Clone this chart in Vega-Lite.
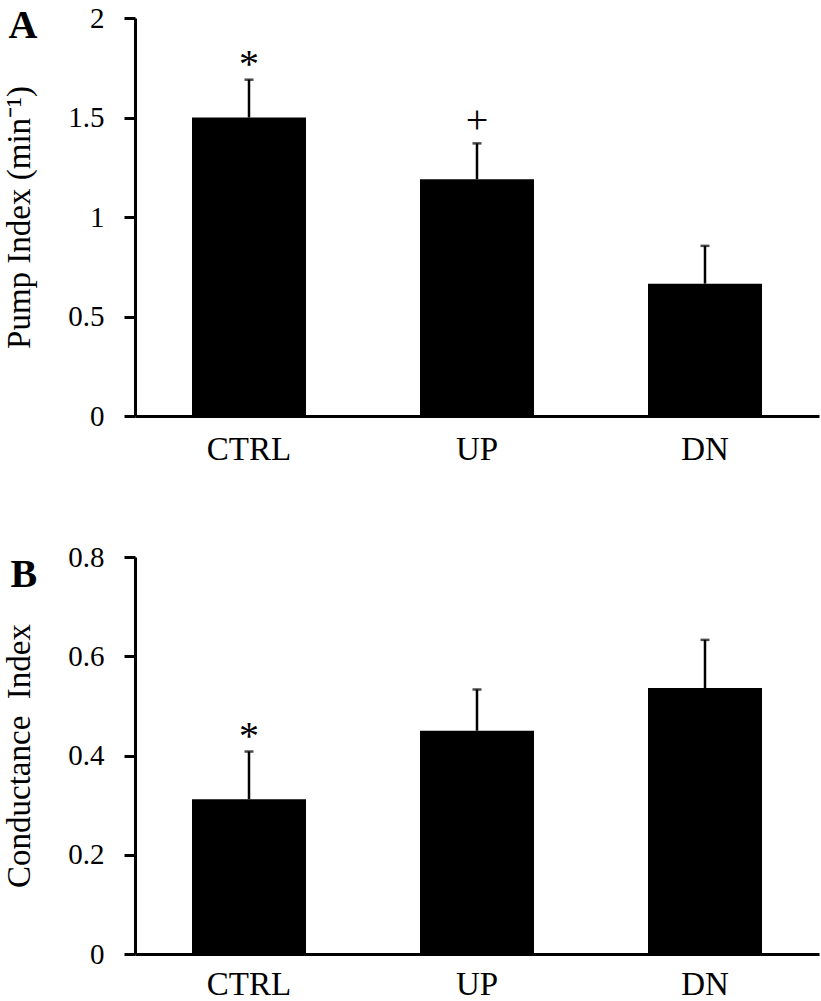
{
  "$schema": "https://vega.github.io/schema/vega-lite/v6.json",
  "padding": {"left": 3, "top": 4, "right": 4, "bottom": 0},
  "background": "white",
  "config": {
    "font": "Liberation Serif",
    "view": {"stroke": null},
    "concat": {"spacing": 77},
    "axis": {
      "domainColor": "black",
      "domainWidth": 3,
      "tickColor": "black",
      "tickWidth": 3,
      "tickSize": 11,
      "labelColor": "black",
      "titleColor": "black",
      "grid": false,
      "labelFont": "Liberation Serif",
      "titleFont": "Liberation Serif",
      "titleFontWeight": "normal"
    },
    "axisX": {"ticks": false, "labelFontSize": 33, "labelPadding": 17, "labelAngle": 0, "title": null},
    "axisY": {"labelFontSize": 29, "labelPadding": 20, "titleFontSize": 33, "titlePadding": 31, "format": "~g"}
  },
  "datasets": {
    "pump": [
      {"group": "CTRL", "value": 1.50, "upper": 1.69, "sig": "*"},
      {"group": "UP", "value": 1.19, "upper": 1.37, "sig": "+"},
      {"group": "DN", "value": 0.665, "upper": 0.855, "sig": ""}
    ],
    "cond": [
      {"group": "CTRL", "value": 0.312, "upper": 0.408, "sig": "*"},
      {"group": "UP", "value": 0.45, "upper": 0.533, "sig": ""},
      {"group": "DN", "value": 0.536, "upper": 0.633, "sig": ""}
    ]
  },
  "vconcat": [
    {
      "width": 684,
      "height": 398,
      "data": {"name": "pump"},
      "resolve": {"axis": {"x": "independent"}},
      "layer": [
        {"mark": {"type": "bar", "color": "black"},
         "encoding": {
           "x": {"field": "group", "type": "nominal", "sort": ["CTRL", "UP", "DN"], "scale": {"paddingInner": 0.5, "paddingOuter": 0.25}, "axis": {"orient": "bottom"}},
           "y": {"field": "value", "type": "quantitative", "scale": {"domain": [0, 2], "nice": false}, "axis": {"values": [0, 0.5, 1, 1.5, 2], "title": "Pump Index (min⁻¹)"}}}},
        {"mark": {"type": "rule", "color": "black", "strokeWidth": 2.5},
         "encoding": {
           "x": {"field": "group", "type": "nominal", "sort": ["CTRL", "UP", "DN"], "axis": {"orient": "top", "labels": false, "ticks": false, "domain": false, "title": "A", "titleX": -127, "titleY": 19, "titleAlign": "left", "titleAnchor": null, "titleAngle": 0, "titleBaseline": "alphabetic", "titleFontSize": 40, "titleFontWeight": "bold"}},
           "y": {"field": "value", "type": "quantitative"}, "y2": {"field": "upper"}}},
        {"mark": {"type": "tick", "color": "black", "size": 9, "thickness": 2.5},
         "encoding": {
           "x": {"field": "group", "type": "nominal", "sort": ["CTRL", "UP", "DN"], "axis": null},
           "y": {"field": "upper", "type": "quantitative"}}},
        {"transform": [{"filter": "datum.sig == '*'"}],
         "mark": {"type": "text", "color": "black", "fontSize": 40, "baseline": "alphabetic", "dy": -3, "font": "Liberation Serif"},
         "encoding": {
           "x": {"field": "group", "type": "nominal", "sort": ["CTRL", "UP", "DN"], "axis": null},
           "y": {"field": "upper", "type": "quantitative"}, "text": {"field": "sig"}}},
        {"transform": [{"filter": "datum.sig == '+'"}],
         "mark": {"type": "text", "color": "black", "fontSize": 40, "baseline": "alphabetic", "dy": -10, "font": "Liberation Serif"},
         "encoding": {
           "x": {"field": "group", "type": "nominal", "sort": ["CTRL", "UP", "DN"], "axis": null},
           "y": {"field": "upper", "type": "quantitative"}, "text": {"field": "sig"}}}
      ]
    },
    {
      "width": 684,
      "height": 397,
      "data": {"name": "cond"},
      "resolve": {"axis": {"x": "independent"}},
      "layer": [
        {"mark": {"type": "bar", "color": "black"},
         "encoding": {
           "x": {"field": "group", "type": "nominal", "sort": ["CTRL", "UP", "DN"], "scale": {"paddingInner": 0.5, "paddingOuter": 0.25}, "axis": {"orient": "bottom", "labelPadding": 14}},
           "y": {"field": "value", "type": "quantitative", "scale": {"domain": [0, 0.8], "nice": false}, "axis": {"values": [0, 0.2, 0.4, 0.6, 0.8], "title": "Conductance \u00a0Index"}}}},
        {"mark": {"type": "rule", "color": "black", "strokeWidth": 2.5},
         "encoding": {
           "x": {"field": "group", "type": "nominal", "sort": ["CTRL", "UP", "DN"], "axis": {"orient": "top", "labels": false, "ticks": false, "domain": false, "title": "B", "titleX": -125, "titleY": 29, "titleAlign": "left", "titleAnchor": null, "titleAngle": 0, "titleBaseline": "alphabetic", "titleFontSize": 40, "titleFontWeight": "bold"}},
           "y": {"field": "value", "type": "quantitative"}, "y2": {"field": "upper"}}},
        {"mark": {"type": "tick", "color": "black", "size": 9, "thickness": 2.5},
         "encoding": {
           "x": {"field": "group", "type": "nominal", "sort": ["CTRL", "UP", "DN"], "axis": null},
           "y": {"field": "upper", "type": "quantitative"}}},
        {"transform": [{"filter": "datum.sig == '*'"}],
         "mark": {"type": "text", "color": "black", "fontSize": 40, "baseline": "alphabetic", "dy": -3, "font": "Liberation Serif"},
         "encoding": {
           "x": {"field": "group", "type": "nominal", "sort": ["CTRL", "UP", "DN"], "axis": null},
           "y": {"field": "upper", "type": "quantitative"}, "text": {"field": "sig"}}}
      ]
    }
  ]
}
